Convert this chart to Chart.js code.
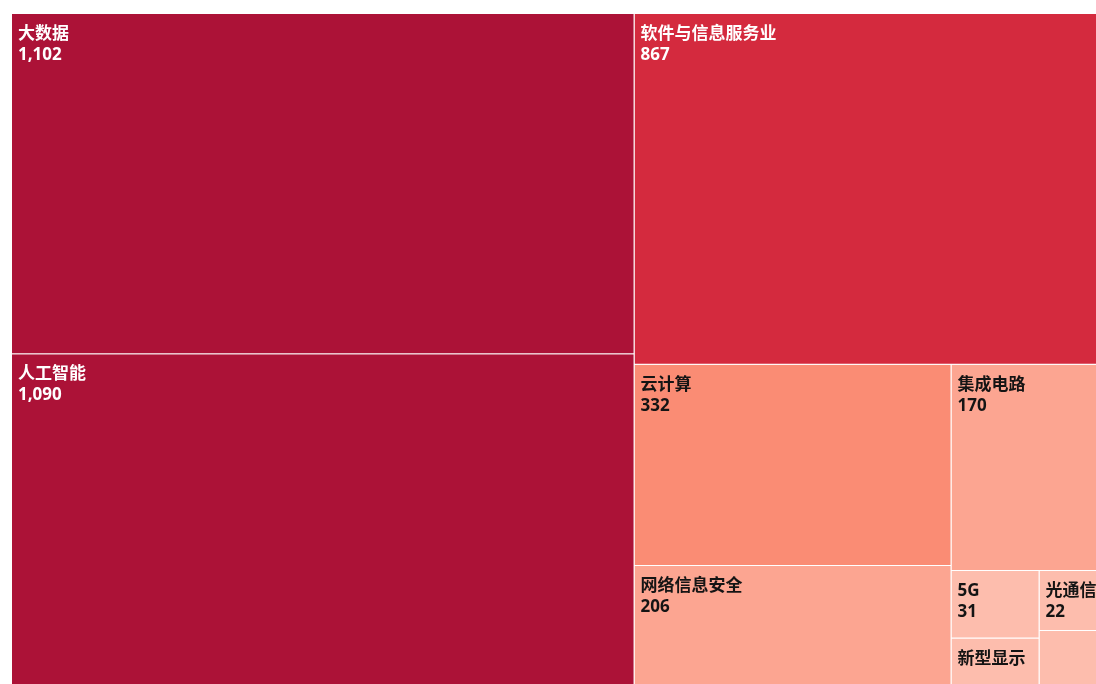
<!DOCTYPE html>
<html lang="zh">
<head>
<meta charset="utf-8">
<title>产业规模</title>
<script src="https://cdn.jsdelivr.net/npm/chart.js@4.4.0/dist/chart.umd.min.js"></script>
<style>
  html, body { margin: 0; padding: 0; overflow: hidden; background: #fff; }
  #mapa { display: block; }
</style>
</head>
<body>
<canvas id="mapa" width="1122" height="705"></canvas>
<script>
// datos del treemap (ordenados de mayor a menor)
const categorias = ['大数据', '人工智能', '软件与信息服务业', '云计算', '网络信息安全', '集成电路', '5G', '新型显示', '光通信', '北斗导航'];
const valores = [1102, 1090, 867, 332, 206, 170, 31, 24, 22, 22];

const RAZON = 0.5 * (1 + Math.sqrt(5));

function colorPorValor(v){
    if (v >= 1000) return '#AC1237';
    if (v >= 500) return '#D42A3E';
    if (v >= 300) return '#FA8C74';
    if (v >= 100) return '#FCA591';
    return '#FDBDAD';
}
function colorTexto(v){
    return v >= 500 ? '#FFFFFF' : '#141414';
}

/************************************************************************
 * squarify: reparte un rectangulo w x h segun los valores
 ************************************************************************/
function peor(fila, area, lado){
    let max = 0, min = Infinity;
    fila.forEach(it => { max = Math.max(max, it.area); min = Math.min(min, it.area); });
    const f = lado * lado * RAZON;
    const a2 = area * area;
    return Math.max(f * max / a2, a2 / (f * min));
}
function colocar(fila, area, r, salida){
    if (r.w >= r.h) {
        const t = area / r.h;
        let y = r.y;
        fila.forEach(it => {
            const h = it.area / t;
            salida[it.i] = {x0: r.x, x1: r.x + t, y0: y, y1: y + h};
            y += h;
        });
        return {x: r.x + t, y: r.y, w: r.w - t, h: r.h};
    }
    const t = area / r.w;
    let x = r.x;
    fila.forEach(it => {
        const w = it.area / t;
        salida[it.i] = {x0: x, x1: x + w, y0: r.y, y1: r.y + t};
        x += w;
    });
    return {x: r.x, y: r.y + t, w: r.w, h: r.h - t};
}
function squarify(datos, w, h){
    const total = datos.reduce((a, b) => a + b, 0);
    const items = datos.map((v, i) => ({i, area: v * w * h / total}))
        .sort((a, b) => b.area - a.area);
    const salida = [];
    let r = {x: 0, y: 0, w, h};
    let fila = [], areaFila = 0, mejor = Infinity;
    let k = 0;
    while (k < items.length) {
        const lado = Math.min(r.w, r.h);
        const cand = fila.concat(items[k]);
        const areaCand = areaFila + items[k].area;
        const s = peor(cand, areaCand, lado);
        if (fila.length === 0 || s <= mejor) {
            fila = cand; areaFila = areaCand; mejor = s; k++;
        } else {
            r = colocar(fila, areaFila, r, salida);
            fila = []; areaFila = 0; mejor = Infinity;
        }
    }
    if (fila.length) colocar(fila, areaFila, r, salida);
    return salida;
}

/************************************************************************
 * controlador propio de Chart.js
 ************************************************************************/
class TreemapController extends Chart.DatasetController {
    update(mode){
        const meta = this._cachedMeta;
        this.updateElements(meta.data, 0, meta.data.length, mode);
    }
    updateElements(cajas, start, count, mode){
        const xs = this._cachedMeta.xScale;
        const ys = this._cachedMeta.yScale;
        const aspecto = (xs.right - xs.left) / (ys.bottom - ys.top);
        const rects = squarify(this.getDataset().data, aspecto, 1);
        for (let i = start; i < start + count; i++) {
            const r = rects[i];
            const izq = xs.getPixelForValue(r.x0 / aspecto);
            const der = xs.getPixelForValue(r.x1 / aspecto);
            const arr = ys.getPixelForValue(r.y0);
            const abj = ys.getPixelForValue(r.y1);
            this.updateElement(cajas[i], i, {
                x: (izq + der) / 2,
                y: arr,
                base: abj,
                width: der - izq,
                height: abj - arr,
                horizontal: false,
                borderSkipped: {},
                inflateAmount: 0,
                options: this.resolveDataElementOptions(i, mode)
            }, mode);
        }
    }
    draw(){
        super.draw();
        const ctx = this.chart.ctx;
        const datos = this.getDataset().data;
        const nombres = this.chart.data.labels;
        ctx.save();
        ctx.font = 'bold 17px "Noto Sans", "Noto Sans CJK SC", sans-serif';
        ctx.textAlign = 'left';
        ctx.textBaseline = 'alphabetic';
        this._cachedMeta.data.forEach((caja, i) => {
            const {x, y, base, width} = caja.getProps(['x', 'y', 'base', 'width']);
            const izq = x - width / 2;
            const alto = base - y;
            if (ctx.measureText(nombres[i]).width > width - 14 || alto < 32) return;
            ctx.save();
            ctx.beginPath();
            ctx.rect(izq, y, width, alto);
            ctx.clip();
            ctx.fillStyle = colorTexto(datos[i]);
            ctx.fillText(nombres[i], izq + 6, y + 25);
            // la segunda linea solo si cabe entera
            if (alto >= 56) ctx.fillText(datos[i].toLocaleString('en-US'), izq + 6, y + 46);
            ctx.restore();
        });
        ctx.restore();
    }
}
TreemapController.id = 'treemap';
TreemapController.defaults = {
    dataElementType: 'bar',
    datasetElementType: false
};
TreemapController.overrides = {
    scales: {
        x: {type: 'linear', min: 0, max: 1, display: false},
        y: {type: 'linear', min: 0, max: 1, reverse: true, display: false}
    }
};
Chart.register(TreemapController);

new Chart(document.getElementById('mapa'), {
    type: 'treemap',
    data: {
        labels: categorias,
        datasets: [{
            data: valores,
            backgroundColor: valores.map(colorPorValor),
            borderColor: '#FFFFFF',
            borderWidth: {top: 0, left: 0, right: 1, bottom: 1},
            borderSkipped: false,
            inflateAmount: 0
        }]
    },
    options: {
        responsive: false,
        maintainAspectRatio: false,
        animation: false,
        devicePixelRatio: 1,
        layout: {padding: {left: 12, top: 14, right: 12, bottom: 14}},
        plugins: {
            legend: {display: false},
            tooltip: {enabled: false}
        }
    }
});
</script>
</body>
</html>
